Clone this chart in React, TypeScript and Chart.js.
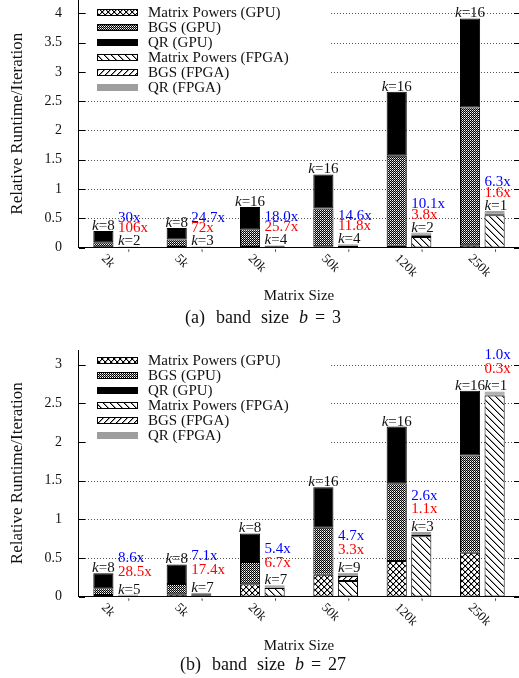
import React, { useEffect, useRef } from 'react';
import { Chart, registerables } from 'chart.js';

Chart.register(...registerables);

const SERIF = '"Liberation Serif", "Times New Roman", serif';

const categories = ['2k', '5k', '20k', '50k', '120k', '250k'];
const seriesLabels = [
  'Matrix Powers (GPU)',
  'BGS (GPU)',
  'QR (GPU)',
  'Matrix Powers (FPGA)',
  'BGS (FPGA)',
  'QR (FPGA)',
];

// ---- Panel (a): band size b = 3 ----
const aMatrixPowersGpu = [0.005, 0.01, 0.01, 0.02, 0.03, 0.04];
const aBgsGpu = [0.085, 0.127, 0.303, 0.647, 1.536, 2.353];
const aQrGpu = [0.194, 0.198, 0.381, 0.581, 1.094, 1.522];
const aMatrixPowersFpga = [0.005, 0.008, 0.02, 0.03, 0.18, 0.55];
const aBgsFpga = [0.003, 0.004, 0.008, 0.01, 0.03, 0.02];
const aQrFpga = [0.01, 0.01, 0.012, 0.016, 0.045, 0.055];
const aKGpu = ['8', '8', '16', '16', '16', '16'];
const aKFpga = ['2', '3', '4', '4', '2', '1'];
const aSpeedupBlue = ['30x', '24.7x', '18.0x', '14.6x', '10.1x', '6.3x'];
const aSpeedupRed = ['106x', '72x', '25.7x', '11.8x', '3.8x', '1.6x'];
const aYTicks = [0, 0.5, 1, 1.5, 2, 2.5, 3, 3.5, 4];

// ---- Panel (b): band size b = 27 ----
const bMatrixPowersGpu = [0.02, 0.03, 0.16, 0.28, 0.46, 0.565];
const bBgsGpu = [0.086, 0.132, 0.287, 0.61, 1.006, 1.261];
const bQrGpu = [0.194, 0.253, 0.369, 0.524, 0.734, 0.836];
const bMatrixPowersFpga = [0.005, 0.01, 0.11, 0.2, 0.78, 2.6];
const bBgsFpga = [0.005, 0.02, 0.005, 0.065, 0.015, 0.01];
const bQrFpga = [0.015, 0.02, 0.03, 0.043, 0.04, 0.043];
const bKGpu = ['8', '8', '8', '16', '16', '16'];
const bKFpga = ['5', '7', '7', '9', '3', '1'];
const bSpeedupBlue = ['8.6x', '7.1x', '5.4x', '4.7x', '2.6x', '1.0x'];
const bSpeedupRed = ['28.5x', '17.4x', '6.7x', '3.3x', '1.1x', '0.3x'];
const bYTicks = [0, 0.5, 1, 1.5, 2, 2.5, 3];

type Panel = {
  id: string;
  letter: string;
  band: string;
  series: number[][];
  kGpu: string[];
  kFpga: string[];
  blue: string[];
  red: string[];
  yTicks: number[];
  yMax: number;
  height: number;
  top: number;
  padTop: number;
  xAxisHeight: number;
  legendTop: number;
  xTitleDy: number;
  captionDy: number;
};

const panelA: Panel = {
  id: 'a',
  letter: 'a',
  band: '3',
  series: [aMatrixPowersGpu, aBgsGpu, aQrGpu, aMatrixPowersFpga, aBgsFpga, aQrFpga],
  kGpu: aKGpu,
  kFpga: aKFpga,
  blue: aSpeedupBlue,
  red: aSpeedupRed,
  yTicks: aYTicks,
  yMax: 4.23,
  height: 335,
  top: 0,
  padTop: 0,
  xAxisHeight: 87.5,
  legendTop: 12.7,
  xTitleDy: 49,
  captionDy: 70.5,
};

const panelB: Panel = {
  id: 'b',
  letter: 'b',
  band: '27',
  series: [bMatrixPowersGpu, bBgsGpu, bQrGpu, bMatrixPowersFpga, bBgsFpga, bQrFpga],
  kGpu: bKGpu,
  kFpga: bKFpga,
  blue: bSpeedupBlue,
  red: bSpeedupRed,
  yTicks: bYTicks,
  yMax: 3.19,
  height: 343,
  top: 335,
  padTop: 15,
  xAxisHeight: 81.5,
  legendTop: 10.7,
  xTitleDy: 50,
  captionDy: 68.5,
};

function makePattern(kind: string): CanvasPattern | string {
  const c = document.createElement('canvas');
  const ctx = c.getContext('2d');
  if (!ctx) return '#888';
  const px = (x: number, y: number, col: string) => {
    ctx.fillStyle = col;
    ctx.fillRect(x, y, 1, 1);
  };
  if (kind === 'cross') {
    const s = 6;
    c.width = s;
    c.height = s;
    ctx.fillStyle = '#fff';
    ctx.fillRect(0, 0, s, s);
    for (let i = 0; i < s; i++) {
      px((i + 1) % s, i, 'rgba(0,0,0,0.35)');
      px((s * 2 - i) % s, i, 'rgba(0,0,0,0.35)');
    }
    for (let i = 0; i < s; i++) {
      px(i, i, '#000');
      px(s - 1 - i, i, '#000');
    }
  } else if (kind === 'checker') {
    const s = 2;
    c.width = s;
    c.height = s;
    ctx.fillStyle = '#000';
    ctx.fillRect(0, 0, s, s);
    px(0, 0, '#fff');
    px(1, 1, '#9a9a9a');
  } else if (kind === 'back') {
    const s = 7;
    c.width = s;
    c.height = s;
    ctx.fillStyle = '#fff';
    ctx.fillRect(0, 0, s, s);
    for (let i = 0; i < s; i++) {
      px((i + 1) % s, i, 'rgba(0,0,0,0.4)');
      px(i, i, '#000');
    }
  } else {
    const s = 6;
    c.width = s;
    c.height = s;
    ctx.fillStyle = '#fff';
    ctx.fillRect(0, 0, s, s);
    for (let i = 0; i < s; i++) {
      px((s - i) % s, i, 'rgba(0,0,0,0.4)');
      px(s - 1 - i, i, '#000');
    }
  }
  const pat = ctx.createPattern(c, 'repeat');
  return pat || '#888';
}

function drawK(ctx: CanvasRenderingContext2D, k: string, x: number, y: number, align: 'center' | 'left') {
  const fItal = `italic 15px ${SERIF}`;
  const fNorm = `15px ${SERIF}`;
  ctx.font = fItal;
  const wk = ctx.measureText('k').width;
  ctx.font = fNorm;
  const wr = ctx.measureText('=' + k).width;
  const x0 = align === 'center' ? x - (wk + wr) / 2 : x;
  ctx.textAlign = 'left';
  ctx.textBaseline = 'alphabetic';
  ctx.fillStyle = '#111';
  ctx.font = fItal;
  ctx.fillText('k', x0, y);
  ctx.font = fNorm;
  ctx.fillText('=' + k, x0 + wk, y);
}

function makeDecor(p: Panel) {
  return {
    id: 'decor' + p.id,
    beforeDatasetsDraw(chart: any) {
      const { ctx, chartArea: a } = chart;
      const y = chart.scales.y;
      ctx.save();
      ctx.lineWidth = 1;
      for (const v of p.yTicks) {
        const py = Math.round(y.getPixelForValue(v)) + 0.5;
        if (v > 0) {
          ctx.strokeStyle = '#555';
          ctx.setLineDash([1, 2]);
          ctx.beginPath();
          ctx.moveTo(a.left, py);
          ctx.lineTo(a.right, py);
          ctx.stroke();
        }
        ctx.setLineDash([]);
        ctx.strokeStyle = '#000';
        ctx.beginPath();
        ctx.moveTo(a.left, py);
        ctx.lineTo(a.left + 6, py);
        ctx.moveTo(a.right - 5, py);
        ctx.lineTo(a.right, py);
        ctx.stroke();
      }
      ctx.restore();
    },
    afterDatasetsDraw(chart: any) {
      const { ctx, chartArea: a } = chart;
      const y = chart.scales.y;
      ctx.save();
      // axes
      ctx.setLineDash([]);
      ctx.strokeStyle = '#000';
      ctx.lineWidth = 1;
      ctx.beginPath();
      ctx.moveTo(Math.round(a.left) - 0.5, a.top);
      ctx.lineTo(Math.round(a.left) - 0.5, a.bottom);
      ctx.moveTo(a.left - 1, Math.floor(a.bottom) + 0.5);
      ctx.lineTo(a.right, Math.floor(a.bottom) + 0.5);
      ctx.stroke();

      // legend
      const ds = chart.data.datasets;
      const lastRow = a.top + p.legendTop + 15 * (ds.length - 1);
      ctx.fillStyle = '#fff';
      ctx.fillRect(a.left + 9, a.top, 242, lastRow + 8 - a.top);
      const lx = Math.round(a.left + 18);
      const lw = 41;
      const lh = 7;
      ds.forEach((d: any, i: number) => {
        const cy = a.top + p.legendTop + 15 * i;
        const ty = Math.round(cy - lh / 2);
        ctx.fillStyle = d.backgroundColor;
        ctx.fillRect(lx, ty, lw, lh);
        if (d.borderColor === '#000') {
          ctx.strokeStyle = '#000';
          ctx.strokeRect(lx + 0.5, ty + 0.5, lw - 1, lh - 1);
        }
        ctx.fillStyle = '#111';
        ctx.font = `15px ${SERIF}`;
        ctx.textAlign = 'left';
        ctx.textBaseline = 'middle';
        ctx.fillText(d.label, a.left + 69, cy + 0.5);
      });

      // annotations
      const gMeta = chart.getDatasetMeta(2);
      const fMeta = chart.getDatasetMeta(5);
      for (let i = 0; i < categories.length; i++) {
        const g = gMeta.data[i] as any;
        const f = fMeta.data[i] as any;
        drawK(ctx, p.kGpu[i], g.x, g.y - 1, 'center');
        const fl = f.x - f.width / 2;
        const fTop = p.series[3][i] + p.series[4][i] + p.series[5][i];
        drawK(ctx, p.kFpga[i], fl, f.y - 1, 'left');
        ctx.font = `15px ${SERIF}`;
        ctx.textAlign = 'left';
        ctx.textBaseline = 'alphabetic';
        ctx.fillStyle = '#ff0000';
        ctx.fillText(p.red[i], fl, y.getPixelForValue(fTop + 0.24));
        ctx.fillStyle = '#0000ff';
        ctx.fillText(p.blue[i], fl, y.getPixelForValue(fTop + 0.42));

        // x tick labels (rotated)
        ctx.fillStyle = '#111';
        ctx.font = `13px ${SERIF}`;
        ctx.textAlign = 'left';
        ctx.textBaseline = 'middle';
        ctx.save();
        ctx.translate(g.x, a.bottom + 9);
        ctx.rotate(Math.PI / 4);
        ctx.fillText(categories[i], 0, 0);
        ctx.restore();
        ctx.save();
        ctx.translate(f.x - 4, a.bottom + 5);
        ctx.rotate(Math.PI / 4);
        ctx.fillText('`', 0, 0);
        ctx.restore();
      }

      // x axis title
      ctx.fillStyle = '#111';
      ctx.font = `15px ${SERIF}`;
      ctx.textAlign = 'center';
      ctx.textBaseline = 'middle';
      ctx.fillText('Matrix Size', (a.left + a.right) / 2, a.bottom + p.xTitleDy);

      // caption
      const parts: { t: string; it?: boolean; gap: number }[] = [
        { t: '(' + p.letter + ')', gap: 11 },
        { t: 'band', gap: 10 },
        { t: 'size', gap: 10 },
        { t: 'b', it: true, gap: 7 },
        { t: '=', gap: 7 },
        { t: p.band, gap: 0 },
      ];
      const fN = `18px ${SERIF}`;
      const fI = `italic 18px ${SERIF}`;
      let total = 0;
      const widths = parts.map((pt) => {
        ctx.font = pt.it ? fI : fN;
        const w = ctx.measureText(pt.t).width;
        total += w + pt.gap;
        return w;
      });
      let cx = 263 - total / 2;
      const cyCap = a.bottom + p.captionDy;
      ctx.textAlign = 'left';
      ctx.textBaseline = 'middle';
      parts.forEach((pt, i) => {
        ctx.font = pt.it ? fI : fN;
        ctx.fillText(pt.t, cx, cyCap);
        cx += widths[i] + pt.gap;
      });
      ctx.restore();
    },
  };
}

function PanelChart({ p }: { p: Panel }) {
  const ref = useRef<HTMLCanvasElement | null>(null);
  useEffect(() => {
    const canvas = ref.current;
    if (!canvas) return;
    const fills = [
      makePattern('cross'),
      makePattern('checker'),
      '#000',
      makePattern('back'),
      makePattern('fwd'),
      '#9e9e9e',
    ];
    const borders = ['#000', '#000', '#000', '#000', '#000', '#9e9e9e'];
    const stacks = ['gpu', 'gpu', 'gpu', 'fpga', 'fpga', 'fpga'];
    const chart = new Chart(canvas, {
      type: 'bar',
      data: {
        labels: categories,
        datasets: p.series.map((d, i) => ({
          label: seriesLabels[i],
          data: d,
          stack: stacks[i],
          backgroundColor: fills[i] as any,
          borderColor: borders[i],
          borderWidth: 1,
          borderSkipped: false,
          categoryPercentage: 0.67,
          barPercentage: 0.82,
        })),
      },
      options: {
        animation: false,
        responsive: false,
        events: [],
        layout: { padding: { top: p.padTop, right: 0, left: 0, bottom: 0 } },
        plugins: {
          legend: { display: false },
          tooltip: { enabled: false },
          title: { display: false },
        },
        scales: {
          x: {
            stacked: true,
            grid: { display: false },
            border: { display: false },
            ticks: { display: false },
            afterFit: (s: any) => {
              s.height = p.xAxisHeight;
              s.paddingLeft = 0;
              s.paddingRight = 0;
            },
          },
          y: {
            stacked: true,
            min: 0,
            max: p.yMax,
            grid: { display: false },
            border: { display: false },
            ticks: {
              color: '#111',
              font: { family: SERIF, size: 14 },
              padding: 9,
              callback: (v: any) => String(v),
            },
            afterBuildTicks: (s: any) => {
              s.ticks = p.yTicks.map((v) => ({ value: v }));
            },
            title: {
              display: true,
              text: 'Relative Runtime/Iteration',
              color: '#111',
              font: { family: SERIF, size: 17 },
              padding: { top: 7, bottom: 0 },
            },
            afterFit: (s: any) => {
              s.width = 79;
              s.paddingTop = 0;
              s.paddingBottom = 0;
            },
          },
        },
      },
      plugins: [makeDecor(p)],
    } as any);
    return () => chart.destroy();
  }, [p]);
  return (
    <canvas
      ref={ref}
      width={519}
      height={p.height}
      style={{ position: 'absolute', left: 0, top: p.top, display: 'block' }}
    />
  );
}

export default function App() {
  return (
    <div style={{ position: 'absolute', left: 0, top: 0, width: 519, height: 678, background: '#fff', overflow: 'hidden' }}>
      <PanelChart p={panelA} />
      <PanelChart p={panelB} />
    </div>
  );
}
